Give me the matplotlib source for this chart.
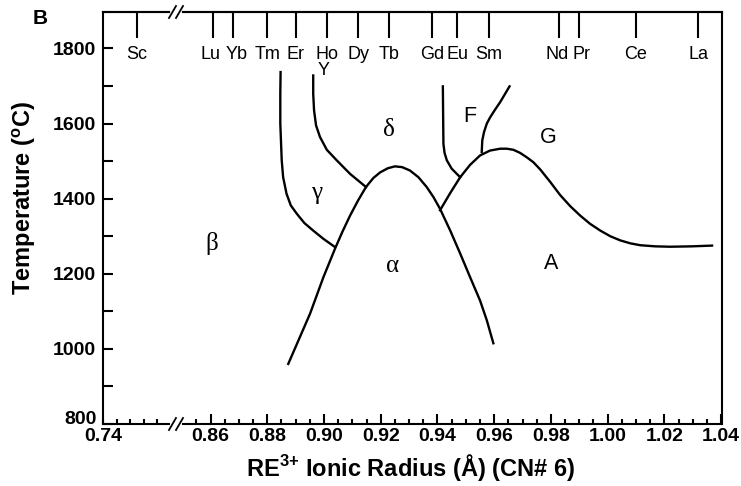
import matplotlib
matplotlib.use("Agg")
import matplotlib.pyplot as plt
from matplotlib.lines import Line2D
from matplotlib.ticker import MultipleLocator, FormatStrFormatter

plt.rcParams['font.family'] = ['Liberation Sans', 'DejaVu Sans']
plt.rcParams['font.weight'] = 'bold'
plt.rcParams['mathtext.fontset'] = 'custom'
plt.rcParams['mathtext.rm'] = 'Liberation Sans'
plt.rcParams['mathtext.bf'] = 'Liberation Sans:bold'

# RE3+ ionic radii (CN 6), top axis
elements = ['Lu', 'Yb', 'Tm', 'Er', 'Ho', 'Dy', 'Tb', 'Gd', 'Eu', 'Sm', 'Nd', 'Pr', 'Ce', 'La']
radii = [0.861, 0.868, 0.880, 0.890, 0.901, 0.912, 0.923, 0.938, 0.947, 0.958, 0.983, 0.990, 1.010, 1.032]
sc_radius = 0.745
y_radius = 0.900

temps = [800, 1000, 1200, 1400, 1600, 1800]

# phase boundaries (radius, temperature)
gb_x = [0.8847, 0.8846, 0.8846, 0.8851, 0.8856, 0.8868, 0.8883, 0.8904, 0.8931, 0.8962, 0.8998, 0.9039]
gb_y = [1737, 1680, 1600, 1502, 1457, 1413, 1382, 1360, 1335, 1315, 1293, 1271]

dg_x = [0.8962, 0.8962, 0.8965, 0.8972, 0.8986, 0.9010, 0.9045, 0.9092, 0.9148]
dg_y = [1728, 1679, 1635, 1595, 1564, 1530, 1502, 1466, 1431]

alpha_x = [0.8874, 0.8951, 0.8998, 0.9039, 0.9065, 0.9092, 0.9120, 0.9148, 0.9174, 0.9198, 0.9225,
           0.9250, 0.9275, 0.9303, 0.9333, 0.9362, 0.9386, 0.9409, 0.9445, 0.9480, 0.9515,
           0.9550, 0.9574, 0.9597]
alpha_y = [960, 1094, 1191, 1267, 1312, 1355, 1395, 1431, 1455, 1470, 1481,
           1486, 1484, 1475, 1457, 1431, 1404, 1373, 1315, 1254, 1191,
           1129, 1076, 1015]

fd_x = [0.9419, 0.9420, 0.9421, 0.9425, 0.9433, 0.9450, 0.9480]
fd_y = [1699, 1620, 1546, 1522, 1502, 1480, 1457]

ga_x = [0.9409, 0.9445, 0.9480, 0.9515, 0.9550, 0.9585, 0.9621, 0.9645, 0.9668, 0.9691,
        0.9715, 0.9738, 0.9762, 0.9797, 0.9832, 0.9868, 0.9903, 0.9938, 0.9974, 1.0009,
        1.0044, 1.0080, 1.0115, 1.0168, 1.0221, 1.0295, 1.0368]
ga_y = [1369, 1415, 1457, 1490, 1515, 1528, 1533, 1533, 1530, 1522,
        1510, 1497, 1478, 1445, 1410, 1380, 1355, 1333, 1315, 1300,
        1289, 1281, 1276, 1273, 1272, 1273, 1275]

fg_x = [0.9556, 0.9558, 0.9564, 0.9574, 0.9586, 0.9603, 0.9621, 0.9654]
fg_y = [1524, 1555, 1577, 1600, 1617, 1637, 1657, 1699]

greek_labels = ['\u03b2', '\u03b3', '\u03b4', '\u03b1']
greek_x = [0.8605, 0.8973, 0.9229, 0.9240]
greek_y = [1281, 1416, 1582, 1222]
latin_labels = ['F', 'G', 'A']
latin_x = [0.9515, 0.9790, 0.9800]
latin_y = [1619, 1563, 1227]

W, H = 741, 486
fig = plt.figure(figsize=(W / 100, H / 100), dpi=100)
ax1 = fig.add_axes([103.3 / W, 62 / H, 65.7 / W, 412 / H])
ax2 = fig.add_axes([183 / W, 62 / H, 539 / W, 412 / H], sharey=ax1)

ax1.set_xlim(0.74, 0.7498)
ax2.set_xlim(0.8503, 1.0403)
ax1.set_ylim(800, 1897)

for ax in (ax1, ax2):
    for s in ax.spines.values():
        s.set_linewidth(1.5)
ax1.spines['right'].set_visible(False)
ax2.spines['left'].set_visible(False)

# y axis
ax1.set_yticks(temps)
ax1.yaxis.set_minor_locator(MultipleLocator(100))
ax1.tick_params(axis='y', which='both', direction='in', length=7, width=1.5,
                labelsize=14, pad=5)
ax2.tick_params(axis='y', which='both', left=False, labelleft=False)
ax1.get_yticklabels()[0].set_verticalalignment('baseline')

# bottom x axes
ax1.set_xticks([0.74])
ax1.xaxis.set_major_formatter(FormatStrFormatter('%.2f'))
ax1.xaxis.set_minor_locator(MultipleLocator(0.002))
ax2.xaxis.set_major_locator(MultipleLocator(0.02))
ax2.xaxis.set_minor_locator(MultipleLocator(0.005))
ax2.xaxis.set_major_formatter(FormatStrFormatter('%.2f'))
for ax in (ax1, ax2):
    ax.tick_params(axis='x', which='major', direction='in', length=7, width=1.5,
                   labelsize=14, pad=3)
    ax.tick_params(axis='x', which='minor', direction='in', length=3.5, width=1.5)
ax1.tick_params(axis='x', which='major', length=3.5)

# element ticks along the top
top1 = ax1.secondary_xaxis('top')
top1.set_xticks([sc_radius], labels=[''])
top2 = ax2.secondary_xaxis('top')
top2.set_xticks(radii, labels=[''] * len(radii))
for t in (top1, top2):
    t.tick_params(direction='in', length=19, width=1.5)
    t.spines['top'].set_linewidth(1.5)

nudge = {'Lu': -3, 'Yb': 3, 'Nd': -2, 'Pr': 2}
ax1.text(sc_radius, 1785, 'Sc', ha='center', va='center', fontsize=13, fontweight='normal')
for el, r in zip(elements, radii):
    ax2.annotate(el, (r, 1785), xytext=(nudge.get(el, 0), 0), textcoords='offset pixels',
                 ha='center', va='center', fontsize=13, fontweight='normal')
ax2.text(y_radius, 1740, 'Y', ha='center', va='center', fontsize=13, fontweight='normal')

# phase boundaries
for xs, ys in [(gb_x, gb_y), (dg_x, dg_y), (alpha_x, alpha_y),
               (fd_x, fd_y), (ga_x, ga_y), (fg_x, fg_y)]:
    ax2.plot(xs, ys, color='black', lw=1.7, solid_joinstyle='round')

for s, x, y in zip(greek_labels, greek_x, greek_y):
    ax2.text(x, y, s, ha='center', va='center', fontsize=18, fontweight='normal',
             family=['Liberation Serif', 'DejaVu Serif'])
for s, x, y in zip(latin_labels, latin_x, latin_y):
    ax2.text(x, y, s, ha='center', va='center', fontsize=15.5, fontweight='normal')

# axis break marks
def px(x, y):
    return x / W, 1 - y / H

for yb in (12, 424):
    for x0 in (169, 176):
        (xa, ya), (xb, yb2) = px(x0, yb + 6), px(x0 + 7, yb - 6)
        fig.add_artist(Line2D([xa, xb], [ya, yb2], color='black', lw=1.3))

fig.text(411 / W, 1 - 467 / H, r'RE$^{\mathbf{3}\mathbf{+}}$ Ionic Radius (Å) (CN# 6)',
         ha='center', va='center', fontsize=17)
fig.text(24 / W, 1 - 198 / H, r'Temperature ($^{\mathbf{o}}$C)', ha='center', va='center',
         rotation=90, fontsize=17)
fig.text(40 / W, 1 - 19 / H, 'B', ha='center', va='center', fontsize=15)

fig.savefig('out.png', dpi=100)
